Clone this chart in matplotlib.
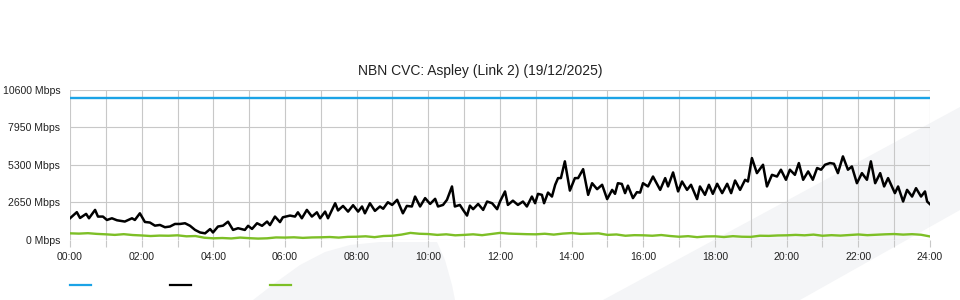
import matplotlib
matplotlib.use("Agg")
import matplotlib.pyplot as plt
from matplotlib.patches import Polygon
from matplotlib.lines import Line2D
import numpy as np

plt.rcParams['font.family'] = ['Liberation Sans', 'DejaVu Sans']

# chart title and axis ticks
title = "NBN CVC: Aspley (Link 2) (19/12/2025)"
y_ticks = [0, 2650, 5300, 7950, 10600]
y_labels = ["0 Mbps", "2650 Mbps", "5300 Mbps", "7950 Mbps", "10600 Mbps"]
x_major = list(range(0, 25, 2))
x_labels = ["%02d:00" % h for h in x_major]

# capacity line (Mbps)
cap_hours = [0, 24]
cap_mbps = [10000, 10000]

# traffic (black) - hour of day and Mbps
traffic_hours = [
    0.00, 0.19, 0.28, 0.45, 0.53, 0.70, 0.78, 0.92, 1.03, 1.17, 1.31, 1.53, 1.73, 1.81, 1.95,
    2.09, 2.23, 2.37, 2.51, 2.65, 2.79, 2.93, 3.07, 3.21, 3.35, 3.49, 3.63, 3.77, 3.91, 3.99,
    4.13, 4.27, 4.41, 4.55, 4.69, 4.88, 4.97, 5.08, 5.22, 5.36, 5.50, 5.58, 5.72, 5.86, 5.94,
    6.14, 6.28, 6.36, 6.47, 6.61, 6.75, 6.89, 6.98, 7.12, 7.20, 7.40, 7.48, 7.62, 7.76, 7.90,
    8.04, 8.15, 8.23, 8.37, 8.51, 8.65, 8.74, 8.87, 8.99, 9.13, 9.29, 9.40, 9.54, 9.63, 9.77,
    9.91, 10.05, 10.19, 10.27, 10.41, 10.52, 10.66, 10.74, 10.88, 10.97, 11.08, 11.16, 11.25,
    11.39, 11.53, 11.64, 11.78, 11.92, 12.00, 12.14, 12.22, 12.36, 12.50, 12.64, 12.75, 12.89,
    12.98, 13.06, 13.17, 13.23, 13.34, 13.45, 13.54, 13.62, 13.70, 13.81, 13.95, 14.09, 14.18,
    14.32, 14.46, 14.57, 14.71, 14.85, 14.99, 15.13, 15.21, 15.29, 15.40, 15.49, 15.57, 15.71,
    15.82, 15.91, 15.99, 16.13, 16.27, 16.47, 16.61, 16.69, 16.83, 16.97, 17.08, 17.22, 17.33,
    17.50, 17.58, 17.72, 17.83, 17.94, 18.06, 18.20, 18.34, 18.45, 18.56, 18.70, 18.84, 18.92,
    19.03, 19.17, 19.34, 19.45, 19.59, 19.73, 19.84, 19.98, 20.09, 20.23, 20.34, 20.46, 20.60,
    20.73, 20.85, 20.96, 21.07, 21.21, 21.32, 21.43, 21.57, 21.71, 21.82, 21.96, 22.10, 22.24,
    22.35, 22.47, 22.61, 22.72, 22.83, 23.02, 23.11, 23.25, 23.36, 23.50, 23.61, 23.75, 23.86,
    23.92, 24.00,
]
traffic_mbps = [
    1530, 1960, 1550, 1840, 1530, 2120, 1650, 1650, 1410, 1530, 1390, 1300, 1530, 1410, 1880,
    1270, 1230, 1010, 1060, 900, 950, 1130, 1130, 1180, 1000, 710, 530, 470, 770, 530,
    950, 1010, 1290, 710, 830, 710, 1000, 780, 1180, 1000, 1300, 1050, 1650, 1260, 1600,
    1720, 1650, 1950, 1530, 2120, 1650, 1950, 1530, 2000, 1530, 2590, 2080, 2400, 2000, 2450,
    2000, 2360, 1880, 2590, 2050, 2360, 2200, 2660, 2470, 2830, 1880, 2400, 2360, 3060, 2360,
    2950, 2540, 2900, 2360, 2470, 2830, 3770, 2360, 2470, 2120, 1720, 2420, 2170,
    2540, 2120, 2710, 2590, 2170, 2710, 3420, 2470, 2770, 2470, 2710, 2360, 3060,
    2590, 3250, 3180, 2590, 3340, 3060, 3890, 4360, 4360, 5540, 3480, 4360, 4360,
    4990, 3180, 4000, 3580, 3890, 2880, 3530, 3250, 4000, 3950, 3300, 3830, 2950,
    3370, 3340, 4000, 3770, 4470, 3530, 4360, 3770, 4760, 3420, 4120, 3530, 3890,
    2880, 3770, 3180, 3890, 3250, 3960, 3300, 3960, 3300, 4190, 3530, 4240, 4120,
    5770, 4710, 5300, 3770, 4590, 4470, 4950, 4240, 4950, 4590, 5420, 4240, 4830,
    4240, 5070, 4950, 5300, 5420, 5370, 4710, 5890, 4950, 5180, 4000, 4710, 4240,
    5540, 4000, 4710, 3770, 4360, 3300, 3770, 2710, 3530, 3060, 3650, 3060, 3420,
    2710, 2520,
]

# green series - 15 minute steps from 00:00 to 24:00
green_mbps = [
    470, 450, 480, 430,
    400, 360, 410, 350,
    320, 280, 310, 300,
    330, 260, 280, 160,
    120, 140, 110, 170,
    130, 100, 120, 180,
    170, 190, 150, 180,
    190, 210, 170, 220,
    230, 260, 200, 280,
    300, 380, 500, 440,
    420, 360, 400, 330,
    360, 400, 340, 420,
    500, 450, 430, 410,
    400, 440, 380, 450,
    490, 430, 450, 470,
    360, 390, 300, 340,
    330, 300, 350, 280,
    230, 270, 200, 250,
    260, 210, 270, 230,
    220, 300, 290, 320,
    330, 360, 330, 380,
    300, 340, 310, 350,
    390, 340, 370, 400,
    420, 380, 410, 370,
    250,
]
green_hours = np.linspace(0, 24, len(green_mbps))

blue = '#1ba3e6'
green = '#7dbf26'
grid_col = '#c8c8c8'

fig = plt.figure(figsize=(9.6, 3.0), dpi=100)
fig.patch.set_facecolor('white')

# faint watermark shapes behind the chart (pixel coords, y from top)
blob = [(253, 300), (275, 283), (300, 265), (325, 252), (350, 245), (380, 242),
        (437, 242), (445, 260), (452, 285), (455, 300)]
band = [(603, 300), (960, 107), (960, 210), (800, 300)]
for shape in (blob, band):
    pts = [(x / 960, 1 - y / 300) for x, y in shape]
    fig.patches.append(Polygon(pts, closed=True, transform=fig.transFigure,
                               facecolor='#f4f5f7', edgecolor='none', zorder=-5))

ax = fig.add_axes([70 / 960, 60 / 300, 860 / 960, 150.5 / 300])
ax.set_zorder(2)
ax.patch.set_alpha(0)

ax.plot(cap_hours, cap_mbps, color=blue, lw=1.7, zorder=3)
ax.plot(green_hours, green_mbps, color=green, lw=1.7, zorder=3)
ax.plot(traffic_hours, traffic_mbps, color='black', lw=1.8, zorder=4)

ax.set_xlim(0, 24)
ax.set_ylim(0, 10600)
ax.set_xticks(x_major)
ax.set_xticks(range(0, 25), minor=True)
ax.set_xticklabels(x_labels, fontsize=7.6, color='#222222')
ax.set_yticks(y_ticks)
ax.set_yticklabels(y_labels, fontsize=7.6, color='#222222')

ax.tick_params(axis='x', which='both', length=5, width=0.8, color=grid_col, pad=3.5)
ax.tick_params(axis='y', length=0, pad=7)
ax.grid(True, which='both', color=grid_col, lw=0.8, zorder=1)
for s in ax.spines.values():
    s.set_visible(False)
ax.set_axisbelow(True)

fig.text(0.5, 1 - 71 / 300, title, ha='center', va='center', fontsize=10, color='#222222')

# legend swatches (labels are blank in the original)
for x0, col in [(70, blue), (170, 'black'), (270, green)]:
    fig.add_artist(Line2D([x0 / 960, (x0 + 21) / 960], [1 - 285 / 300] * 2,
                          transform=fig.transFigure, color=col, lw=1.6))

fig.savefig('out.png', dpi=100)
